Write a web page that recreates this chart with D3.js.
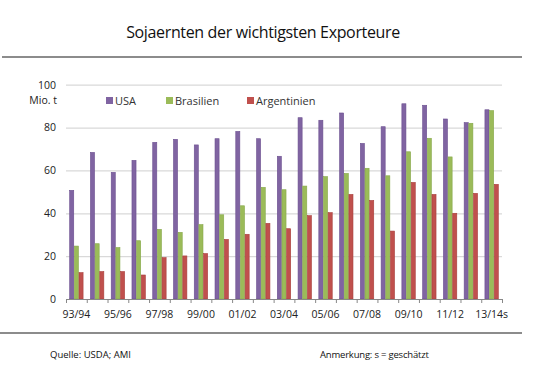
<!DOCTYPE html>
<html>
<head>
<meta charset="utf-8">
<script src="https://cdn.jsdelivr.net/npm/d3@7"></script>
<style>
  body { margin: 0; background: #fff; }
  svg text { font-family: "Open Sans", "Noto Sans", sans-serif; }
</style>
</head>
<body>
<div id="chart"></div>
<script>
var seasons = ["93/94", "94/95", "95/96", "96/97", "97/98", "98/99", "99/00", "00/01", "01/02", "02/03",
    "03/04", "04/05", "05/06", "06/07", "07/08", "08/09", "09/10", "10/11", "11/12", "12/13", "13/14s"]
var usa = [50.7, 68.4, 59.1, 64.7, 73.1, 74.5, 71.9, 74.8, 78.2, 74.8,
    66.6, 84.6, 83.4, 86.8, 72.6, 80.4, 91.1, 90.4, 84.0, 82.3, 88.3]
var brasilien = [24.7, 25.8, 24.0, 27.2, 32.5, 31.1, 34.7, 39.3, 43.5, 52.1,
    51.0, 52.7, 57.1, 58.6, 61.0, 57.5, 68.7, 75.0, 66.3, 82.0, 87.9]
var argentinien = [12.3, 12.8, 12.8, 11.2, 19.3, 20.1, 21.2, 27.8, 30.2, 35.3,
    32.8, 38.9, 40.3, 48.8, 46.0, 31.7, 54.4, 48.8, 40.0, 49.3, 53.5]
var seriesNames = ["USA", "Brasilien", "Argentinien"]
var yTicks = [0, 20, 40, 60, 80, 100]

var colors = { "USA": "#8064a2", "Brasilien": "#9bbb59", "Argentinien": "#c0504d" }
var strokes = { "USA": "#6b4f8f", "Brasilien": "#86a84a", "Argentinien": "#a83f3c" }

var W = 549, H = 375
var plot = { left: 66, right: 502, top: 84.7, bottom: 299 }

var svg = d3.select("#chart").append("svg")
    .attr("width", W)
    .attr("height", H)

// title + rules
svg.append("text")
    .attr("x", 263)
    .attr("y", 38)
    .attr("text-anchor", "middle")
    .attr("font-size", "16px")
    .attr("letter-spacing", "-0.35px")
    .attr("fill", "#111")
    .text("Sojaernten der wichtigsten Exporteure")

svg.append("line").attr("x1", 2).attr("x2", 522).attr("y1", 57).attr("y2", 57)
    .attr("stroke", "#666").attr("stroke-width", 1.5)
svg.append("line").attr("x1", 0).attr("x2", 522).attr("y1", 333).attr("y2", 333)
    .attr("stroke", "#666").attr("stroke-width", 1.5)

var x = d3.scaleBand()
    .domain(seasons)
    .range([plot.left, plot.right])
    .padding(0)

var step = x.step()
var xInner = d3.scaleBand()
    .domain(seriesNames)
    .range([step * 0.163, step * (1 - 0.163)])
    .padding(0)

var y = d3.scaleLinear()
    .domain([0, 100])
    .range([plot.bottom, plot.top])

// gridlines
svg.append("g")
    .attr("class", "grid")
    .attr("transform", "translate(" + plot.left + ",0)")
    .call(d3.axisLeft(y).tickValues(yTicks.slice(1)).tickSize(-(plot.right - plot.left)).tickFormat(""))
    .call(function (g) { g.select(".domain").remove() })
    .selectAll("line")
    .attr("stroke", "#d9d9d9")
    .attr("stroke-width", 1.2)

// y labels
svg.append("g")
    .attr("transform", "translate(56,0)")
    .call(d3.axisLeft(y).tickValues(yTicks).tickSize(0).tickPadding(0))
    .call(function (g) { g.select(".domain").remove() })
    .selectAll("text")
    .attr("font-size", "10.5px")
    .attr("fill", "#222")
    .attr("font-family", "Open Sans, sans-serif")

svg.append("text")
    .attr("x", 57)
    .attr("y", 104)
    .attr("text-anchor", "end")
    .attr("font-size", "10.5px")
    .attr("fill", "#222")
    .text("Mio. t")

// bars
var rows = seasons.map(function (s, i) {
    return { season: s, values: [usa[i], brasilien[i], argentinien[i]] }
})

var groups = svg.append("g")
    .selectAll("g")
    .data(rows)
    .enter()
    .append("g")
    .attr("transform", function (d) { return "translate(" + x(d.season) + ",0)" })

groups.selectAll("rect")
    .data(function (d) {
        return seriesNames.map(function (n, k) { return { name: n, value: d.values[k] } })
    })
    .enter()
    .append("rect")
    .attr("x", function (d) { return xInner(d.name) + 0.3 })
    .attr("width", xInner.bandwidth() - 0.6)
    .attr("y", function (d) { return y(d.value) })
    .attr("height", function (d) { return y(0) - y(d.value) })
    .attr("fill", function (d) { return colors[d.name] })
    .attr("stroke", function (d) { return strokes[d.name] })
    .attr("stroke-width", 0.6)

// x axis: ticks at category boundaries
var xIdx = d3.scaleLinear().domain([0, seasons.length]).range([plot.left, plot.right])
svg.append("g")
    .attr("transform", "translate(0," + plot.bottom + ")")
    .call(d3.axisBottom(xIdx).tickValues(d3.range(seasons.length + 1)).tickSize(4).tickSizeOuter(0).tickFormat(""))
    .call(function (g) {
        g.selectAll("line").attr("stroke", "#888")
        g.select(".domain").attr("stroke", "#888")
    })

svg.append("g")
    .attr("transform", "translate(0," + plot.bottom + ")")
    .call(d3.axisBottom(x).tickSize(0).tickPadding(12)
        .tickFormat(function (d, i) { return i % 2 === 0 ? d : "" }))
    .call(function (g) { g.select(".domain").remove() })
    .selectAll("text")
    .attr("font-size", "10.5px")
    .attr("fill", "#222")
    .attr("font-family", "Open Sans, sans-serif")

// legend
var legendX = [106, 166, 247]
var legend = svg.append("g")
    .selectAll("g")
    .data(seriesNames)
    .enter()
    .append("g")
    .attr("transform", function (d, i) { return "translate(" + legendX[i] + ",97)" })

legend.append("rect")
    .attr("width", 7)
    .attr("height", 7)
    .attr("fill", function (d) { return colors[d] })

legend.append("text")
    .attr("x", 9)
    .attr("y", 7.5)
    .attr("font-size", "11px")
    .attr("fill", "#333")
    .text(function (d) { return d })

// footer
svg.append("text")
    .attr("x", 50)
    .attr("y", 358)
    .attr("font-size", "9.5px")
    .attr("fill", "#111")
    .text("Quelle: USDA; AMI")

svg.append("text")
    .attr("x", 320)
    .attr("y", 358)
    .attr("font-size", "9.5px")
    .attr("letter-spacing", "-0.2px")
    .attr("fill", "#111")
    .text("Anmerkung: s = geschätzt")
</script>
</body>
</html>
